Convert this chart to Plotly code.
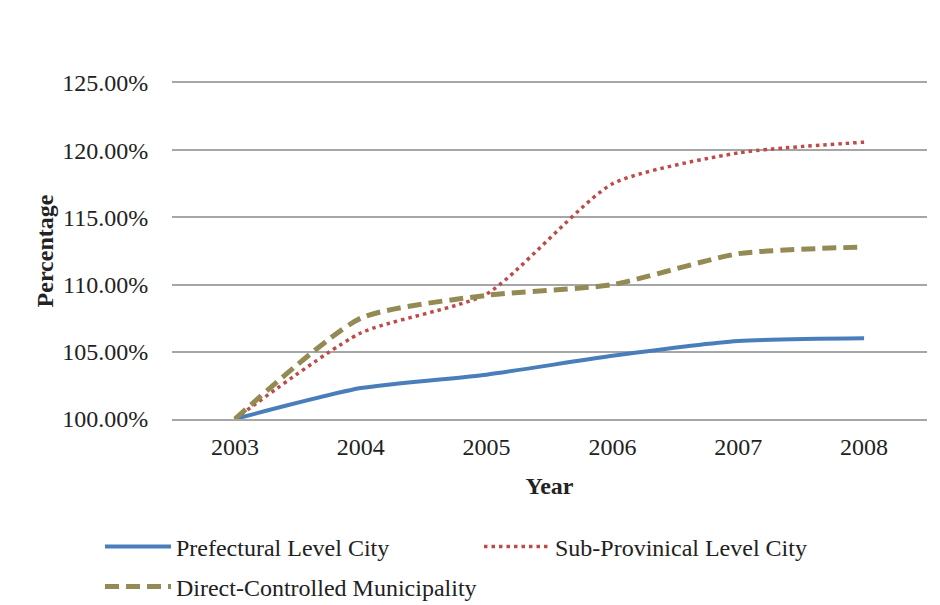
import plotly.graph_objects as go

years = [2003, 2004, 2005, 2006, 2007, 2008]
prefectural = [100.0, 102.3, 103.3, 104.7, 105.8, 106.0]
sub_provincial = [100.0, 106.4, 109.3, 117.5, 119.8, 120.6]
direct_controlled = [100.0, 107.5, 109.2, 110.0, 112.3, 112.8]
y_ticks = [100, 105, 110, 115, 120, 125]
y_tick_labels = ["100.00%", "105.00%", "110.00%", "115.00%", "120.00%", "125.00%"]

FONT = "Liberation Serif"
FS = 24
TXT = "#222222"
GRID = "#a6a6a6"

fig = go.Figure()
fig.add_trace(go.Scatter(x=years, y=prefectural, mode="lines", name="Prefectural Level City",
                         legend="legend",
                         line=dict(color="#4a7ebb", width=4, shape="spline", smoothing=0.6)))
fig.add_trace(go.Scatter(x=years, y=sub_provincial, mode="lines", name="Sub-Provinical Level City",
                         legend="legend",
                         line=dict(color="#be4b48", width=3.5, dash="3.5px,4px", shape="spline", smoothing=0.6)))
fig.add_trace(go.Scatter(x=years, y=direct_controlled, mode="lines", name="Direct-Controlled Municipality",
                         legend="legend2",
                         line=dict(color="#948a54", width=5, dash="14px,7px", shape="spline", smoothing=0.6)))

leg_common = dict(orientation="h", xanchor="left", yanchor="middle",
                  itemwidth=66, font=dict(family=FONT, size=FS, color=TXT),
                  bgcolor="rgba(0,0,0,0)")

fig.update_layout(
    width=940, height=605,
    margin=dict(l=172, r=13, t=83, b=186, autoexpand=False),
    paper_bgcolor="white", plot_bgcolor="white",
    font=dict(family=FONT, size=FS, color=TXT),
    showlegend=True,
    legend=dict(x=-0.0954, y=-0.381, entrywidth=298, entrywidthmode="pixels", **leg_common),
    legend2=dict(x=-0.0954, y=-0.50, **leg_common),
    xaxis=dict(range=[2002.5, 2008.5], tickmode="array", tickvals=years,
               ticktext=[str(y) for y in years], showgrid=False, zeroline=False,
               showline=True, mirror=True, linecolor=GRID, linewidth=1.5,
               ticks="outside", ticklen=5, tickcolor="rgba(0,0,0,0)",
               title=dict(text="<b>Year</b>", font=dict(family=FONT, size=FS, color=TXT), standoff=19)),
    yaxis=dict(range=[100, 125], tickmode="array", tickvals=y_ticks, ticktext=y_tick_labels,
               showgrid=True, gridcolor=GRID, gridwidth=1.5, zeroline=False, showline=False,
               ticks="outside", ticklen=18, tickcolor="rgba(0,0,0,0)",
               title=dict(text="<b>Percentage</b>", font=dict(family=FONT, size=FS, color=TXT), standoff=1)),
)

fig.write_html("out.html")
